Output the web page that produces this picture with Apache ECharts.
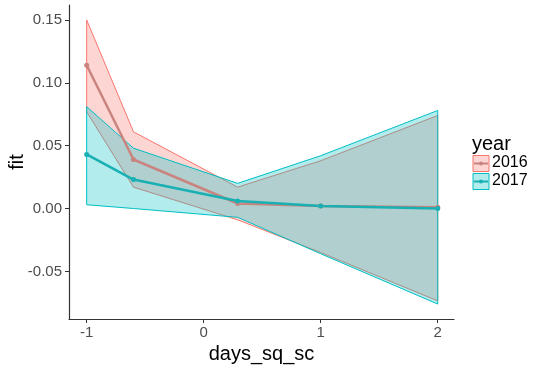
<!DOCTYPE html>
<html>
<head>
<meta charset="utf-8">
<script src="https://cdn.jsdelivr.net/npm/echarts@6/dist/echarts.min.js"></script>
<style>html,body{margin:0;padding:0;background:#fff}#c{width:540px;height:366px}</style>
</head>
<body>
<div id="c"></div>
<script>
var xVals = [-1, -0.6, 0.29, 1, 2];
var fit2016 = [0.114, 0.039, 0.004, 0.002, 0.001];
var lo2016 = [0.077, 0.017, -0.009, -0.035, -0.0735];
var hi2016 = [0.150, 0.061, 0.017, 0.038, 0.074];
var fit2017 = [0.043, 0.023, 0.006, 0.002, 0.000];
var lo2017 = [0.003, 0.000, -0.007, -0.036, -0.076];
var hi2017 = [0.081, 0.048, 0.020, 0.042, 0.078];
var xTicks = [-1, 0, 1, 2];
var yTicks = [-0.05, 0, 0.05, 0.10, 0.15];
var years = ['2016', '2017'];

var pink = '#F8766D', teal = '#00BFC4';
var font = 'Liberation Sans, Arial, sans-serif';

function bandData(lo, hi) {
  return xVals.map(function (x, i) { return [x, lo[i], hi[i]]; });
}
function bandSeries(name, lo, hi, color, fill) {
  return {
    type: 'custom', name: name + ' band', silent: true, z: 1,
    data: bandData(lo, hi),
    encode: { x: 0, y: [1, 2] },
    renderItem: function (params, api) {
      if (params.dataIndex !== 0) return null;
      var pts = [];
      for (var i = 0; i < xVals.length; i++) pts.push(api.coord([xVals[i], hi[i]]));
      for (var j = xVals.length - 1; j >= 0; j--) pts.push(api.coord([xVals[j], lo[j]]));
      return {
        type: 'polygon',
        shape: { points: pts },
        style: { fill: fill, stroke: color, lineWidth: 1 }
      };
    }
  };
}
function lineSeries(name, fit, color) {
  return {
    type: 'line', name: name, z: 3,
    data: xVals.map(function (x, i) { return [x, fit[i]]; }),
    symbol: 'circle', symbolSize: 5,
    lineStyle: { color: color, width: 2.5 },
    itemStyle: { color: color },
    silent: true
  };
}

var chart = echarts.init(document.getElementById('c'), null, { renderer: 'canvas' });
chart.setOption({
  animation: false,
  backgroundColor: '#fff',
  grid: { left: 69, right: 86, top: 5, bottom: 47, containLabel: false, outerBoundsMode: 'none' },
  xAxis: {
    type: 'value', min: -1.151, max: 2.139,
    name: 'days_sq_sc', nameLocation: 'middle', nameGap: 24,
    nameTextStyle: { color: '#000', fontSize: 20, fontFamily: font },
    axisLine: { show: true, onZero: false, lineStyle: { color: '#333', width: 1.2 } },
    axisTick: { show: true, length: 4, customValues: xTicks, lineStyle: { color: '#333' } },
    axisLabel: { customValues: xTicks, color: '#4d4d4d', fontSize: 15, fontFamily: font, margin: 6 },
    splitLine: { show: false }
  },
  yAxis: {
    type: 'value', min: -0.0879, max: 0.1619,
    name: 'fit', nameLocation: 'middle', nameGap: 42, nameRotate: 90, nameMoveOverlap: false,
    nameTextStyle: { color: '#000', fontSize: 20, fontFamily: font },
    axisLine: { show: true, onZero: false, lineStyle: { color: '#333', width: 1.2 } },
    axisTick: { show: true, length: 4, customValues: yTicks, lineStyle: { color: '#333' } },
    axisLabel: {
      customValues: yTicks, color: '#4d4d4d', fontSize: 15, fontFamily: font, margin: 7,
      formatter: function (v) { return v.toFixed(2); }
    },
    splitLine: { show: false }
  },
  series: [
    bandSeries(years[0], lo2016, hi2016, pink, 'rgba(248,118,109,0.3)'),
    bandSeries(years[1], lo2017, hi2017, teal, 'rgba(0,191,196,0.3)'),
    lineSeries(years[0], fit2016, '#c98480'),
    lineSeries(years[1], fit2017, '#19b0b3')
  ],
  graphic: [
    { type: 'text', left: 472, top: 134, style: { text: 'year', fill: '#000', font: '20px ' + font } },
    { type: 'rect', shape: { x: 473, y: 155.5, width: 16, height: 16 }, style: { fill: 'rgba(248,118,109,0.3)', stroke: pink, lineWidth: 1 } },
    { type: 'line', shape: { x1: 474, y1: 163.5, x2: 488, y2: 163.5 }, style: { stroke: '#c98480', lineWidth: 2 } },
    { type: 'circle', shape: { cx: 481, cy: 163.5, r: 2 }, style: { fill: '#c98480' } },
    { type: 'text', left: 492, top: 155, style: { text: years[0], fill: '#000', font: '16px ' + font } },
    { type: 'rect', shape: { x: 473, y: 173.5, width: 16, height: 16 }, style: { fill: 'rgba(0,191,196,0.3)', stroke: teal, lineWidth: 1 } },
    { type: 'line', shape: { x1: 474, y1: 181.5, x2: 488, y2: 181.5 }, style: { stroke: '#19b0b3', lineWidth: 2 } },
    { type: 'circle', shape: { cx: 481, cy: 181.5, r: 2 }, style: { fill: '#19b0b3' } },
    { type: 'text', left: 492, top: 173, style: { text: years[1], fill: '#000', font: '16px ' + font } }
  ]
});
</script>
</body>
</html>
